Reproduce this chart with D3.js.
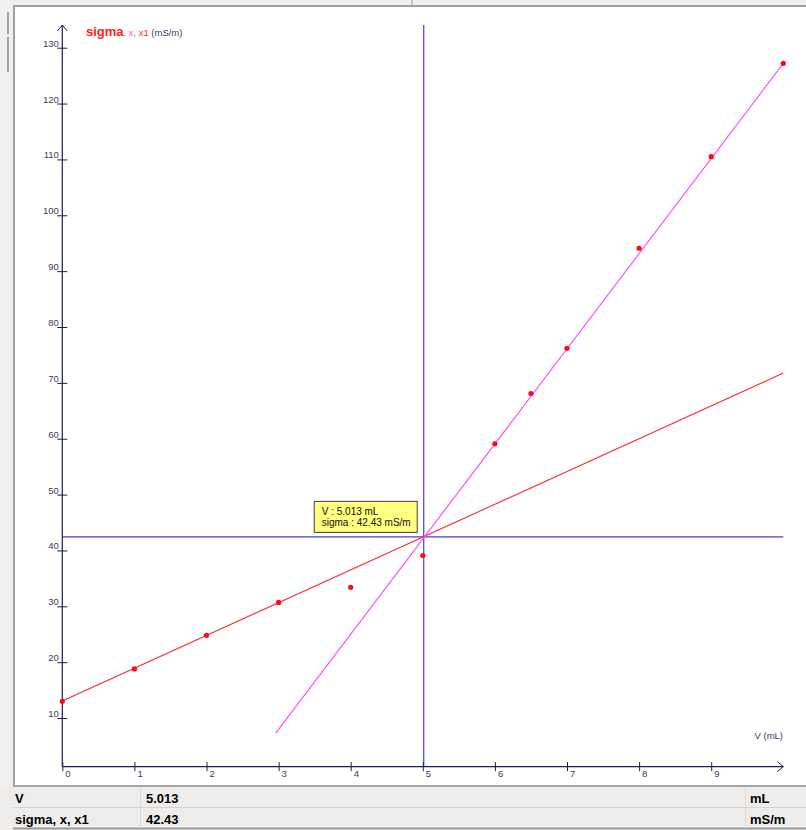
<!DOCTYPE html>
<html><head><meta charset="utf-8">
<script src="https://cdn.jsdelivr.net/npm/d3@7"></script>
<style>body{margin:0;background:#fff;}svg{display:block;}</style>
</head><body>
<svg id="c" width="806" height="830"></svg>
<script>
// ---- data ----
const vValues = [0, 1, 2, 3, 4, 5, 6, 6.5, 7, 8, 9, 10];
const sigmaValues = [13.0, 18.8, 24.8, 30.7, 33.4, 39.1, 59.1, 68.1, 76.2, 94.1, 110.5, 127.2];
const fitX = [[0, 13.05], [10, 71.75]];      // red regression (first branch)
const fitX1 = [[2.96, 7.3], [10, 127.2]];    // magenta regression (second branch)
const cursor = {v: 5.013, sigma: 42.43};
const xTicks = [0, 1, 2, 3, 4, 5, 6, 7, 8, 9];
const yTicks = [10, 20, 30, 40, 50, 60, 70, 80, 90, 100, 110, 120, 130];

const svg = d3.select("#c");
const x = d3.scaleLinear().domain([0, 10]).range([62.3, 783.3]);
const y = d3.scaleLinear().domain([0, 130]).range([773.9, 47.7]);
const axisColor = "#1c1c5c";
const labColor = "#3a3a66";

// window chrome
svg.append("rect").attr("x",0).attr("y",0).attr("width",806).attr("height",6).attr("fill","#f0f0f0");
svg.append("rect").attr("x",0).attr("y",0).attr("width",13).attr("height",830).attr("fill","#f0f0f0");
svg.append("line").attr("x1",13).attr("x2",806).attr("y1",6).attr("y2",6).attr("stroke","#a0a0a0").attr("stroke-width",2);
svg.append("line").attr("x1",14).attr("x2",14).attr("y1",6).attr("y2",786).attr("stroke","#a0a0a0").attr("stroke-width",2);
svg.append("line").attr("x1",412).attr("x2",412).attr("y1",0).attr("y2",5).attr("stroke","#a0a0a0");
[[12,34],[37,72]].forEach(s=>svg.append("line").attr("x1",8).attr("x2",8).attr("y1",s[0]).attr("y2",s[1]).attr("stroke","#707070").attr("stroke-width",1.2));

// crosshair
svg.append("line").attr("x1",x(cursor.v)).attr("x2",x(cursor.v)).attr("y1",25).attr("y2",y(1.3)).attr("stroke","#4040d8").attr("stroke-width",1.2);
svg.append("line").attr("x1",x(0)).attr("x2",x(10)).attr("y1",y(cursor.sigma)).attr("y2",y(cursor.sigma)).attr("stroke","#4040d8").attr("stroke-width",1.2);

// axes
const xAxisY = y(1.3);
svg.append("line").attr("x1",x(0)).attr("x2",x(10)).attr("y1",xAxisY).attr("y2",xAxisY).attr("stroke",axisColor).attr("stroke-width",1.2);
svg.append("path").attr("d",`M${x(10)-6},${xAxisY-5}L${x(10)},${xAxisY}L${x(10)-6},${xAxisY+5}`).attr("fill","none").attr("stroke",axisColor);
svg.append("line").attr("x1",x(0)).attr("x2",x(0)).attr("y1",25).attr("y2",xAxisY).attr("stroke",axisColor).attr("stroke-width",1.2);
svg.append("path").attr("d",`M${x(0)-5},${31}L${x(0)},${25}L${x(0)+5},${31}`).attr("fill","none").attr("stroke",axisColor);

const xg = svg.append("g").attr("transform",`translate(0,${xAxisY})`)
  .call(d3.axisBottom(x).tickValues(xTicks).tickSize(0).tickFormat(d3.format("d")));
xg.select(".domain").remove();
xg.selectAll(".tick").append("line").attr("y1",-4.5).attr("y2",4.5).attr("stroke",axisColor);
xg.selectAll(".tick text").attr("x",2.5).attr("dy",0).attr("y",10.5).attr("text-anchor","start")
  .attr("fill",labColor).style("font","9.5px 'Liberation Sans', Arial, sans-serif");

const yg = svg.append("g").attr("transform",`translate(${x(0)},0)`)
  .call(d3.axisLeft(y).tickValues(yTicks).tickSize(0).tickFormat(d3.format("d")));
yg.select(".domain").remove();
yg.selectAll(".tick").append("line").attr("x1",-5).attr("x2",5).attr("stroke",axisColor);
yg.selectAll(".tick text").attr("x",-3.5).attr("dy",0).attr("y",-1.5).attr("text-anchor","end")
  .attr("fill",labColor).style("font","9.5px 'Liberation Sans', Arial, sans-serif");

// axis titles
const t = svg.append("text").attr("x",86).attr("y",35.5).style("font-family","'Liberation Sans', Arial, sans-serif");
t.append("tspan").text("sigma").attr("fill","#ff2020").style("font-weight","bold").style("font-size","13px");
t.append("tspan").text(". ").attr("fill","#a0a0a0").style("font-size","9px");
t.append("tspan").text("x").attr("fill","#ff40ff").style("font-size","9.5px");
t.append("tspan").text(", ").attr("fill","#808080").style("font-size","9.5px");
t.append("tspan").text("x1").attr("fill","#ff3030").style("font-size","9.5px");
t.append("tspan").text(" (mS/m)").attr("fill",labColor).style("font-size","9.5px");

svg.append("text").attr("x",783).attr("y",739).attr("text-anchor","end").text("V (mL)")
  .attr("fill",labColor).style("font","9.5px 'Liberation Sans', Arial, sans-serif");

// fit lines
const line = d3.line().x(d=>x(d[0])).y(d=>y(d[1]));
svg.append("path").attr("d",line(fitX)).attr("stroke","#ff2a2a").attr("stroke-width",1.1).attr("fill","none");
svg.append("path").attr("d",line(fitX1)).attr("stroke","#ff44ff").attr("stroke-width",1.1).attr("fill","none");

// points
svg.append("g").selectAll("circle").data(vValues).join("circle")
  .attr("cx",(d)=>x(d)).attr("cy",(d,i)=>y(sigmaValues[i])).attr("r",2.6).attr("fill","#ff0a14");

// tooltip
const tx = x(cursor.v) - 110, ty = y(cursor.sigma) - 36;
svg.append("rect").attr("x",tx+0.5).attr("y",ty+0.5).attr("width",103).attr("height",31)
  .attr("fill","#ffff80").attr("stroke","#404040");
svg.append("text").attr("x",tx+8).attr("y",ty+14).text(`V : ${cursor.v.toFixed(3)} mL`)
  .attr("fill","#101010").style("font","10px 'Liberation Sans', Arial, sans-serif");
svg.append("text").attr("x",tx+8).attr("y",ty+25.5).text(`sigma : ${cursor.sigma.toFixed(2)} mS/m`)
  .attr("fill","#101010").style("font","10px 'Liberation Sans', Arial, sans-serif");

// bottom table
svg.append("rect").attr("x",0).attr("y",786).attr("width",806).attr("height",44).attr("fill","#efedeb");
svg.append("line").attr("x1",13).attr("x2",806).attr("y1",786).attr("y2",786).attr("stroke","#a8a8a8").attr("stroke-width",2);
svg.append("line").attr("x1",13).attr("x2",806).attr("y1",807.5).attr("y2",807.5).attr("stroke","#d4d4d4");
svg.append("line").attr("x1",13).attr("x2",806).attr("y1",828.5).attr("y2",828.5).attr("stroke","#9a9a9a").attr("stroke-width",2);
[140.5, 745.5].forEach(cx=>svg.append("line").attr("x1",cx).attr("x2",cx).attr("y1",787).attr("y2",828).attr("stroke","#dadada"));
const rows = [["V", cursor.v.toFixed(3), "mL"], ["sigma, x, x1", cursor.sigma.toFixed(2), "mS/m"]];
rows.forEach((r,i)=>{
  const by = 803 + i*21;
  [[15,r[0]],[146,r[1]],[750,r[2]]].forEach(c=>svg.append("text").attr("x",c[0]).attr("y",by).text(c[1])
    .attr("fill","#000").style("font","bold 13px 'Liberation Sans', Arial, sans-serif"));
});
</script>
</body></html>
